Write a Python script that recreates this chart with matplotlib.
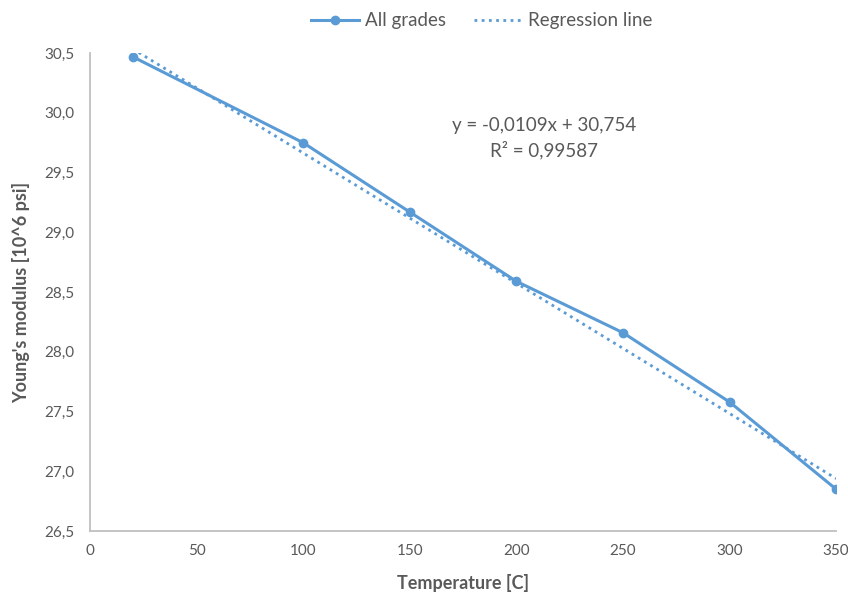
import numpy as np
import matplotlib
matplotlib.use("Agg")
import matplotlib.pyplot as plt
from matplotlib.ticker import FuncFormatter

plt.rcParams['font.family'] = ['Lato', 'DejaVu Sans']

# measured stiffness vs temperature
temperature = [20, 100, 150, 200, 250, 300, 350]
modulus = [30.47, 29.75, 29.17, 28.59, 28.16, 27.58, 26.85]

# trendline coefficients as printed on the chart
slope = -0.0109
intercept = 30.754
r_squared = 0.99587

blue = '#5B9BD5'
grey = '#595959'

fig = plt.figure(figsize=(8.48, 5.93), dpi=100)
ax = fig.add_axes([0.106, 0.1045, 0.880, 0.806])

ax.plot(temperature, modulus, color=blue, lw=2.2, marker='o', ms=6,
        label='All grades', zorder=3)

xfit = np.array([temperature[0], temperature[-1]])
ax.plot(xfit, slope * xfit + intercept, color=blue, lw=2.0,
        linestyle=(0, (1, 1.6)), label='Regression line', zorder=2)

ax.set_xlim(0, 350)
ax.set_ylim(26.5, 30.5)
ax.set_xticks(np.arange(0, 351, 50))
ax.set_yticks(np.arange(26.5, 30.51, 0.5))
ax.yaxis.set_major_formatter(FuncFormatter(lambda v, p: f"{v:.1f}".replace('.', ',')))
ax.tick_params(length=0, labelsize=11, colors=grey)
ax.tick_params(axis='y', pad=11)
ax.tick_params(axis='x', pad=9)

for side in ['top', 'right']:
    ax.spines[side].set_visible(False)
for side in ['left', 'bottom']:
    ax.spines[side].set_color('#BFBFBF')
    ax.spines[side].set_linewidth(1.3)

ax.set_xlabel('Temperature [C]', fontsize=13, fontweight='bold', color=grey, labelpad=12)
ax.set_ylabel("Young's modulus [10^6 psi]", fontsize=13, fontweight='bold', color=grey, labelpad=10)

eq = f"y = {slope:.4f}x + {intercept:.3f}".replace('.', ',')
r2 = f"R² = {r_squared:.5f}".replace('.', ',')
ax.text(213, 29.79, eq + "\n" + r2, ha='center', va='center',
        fontsize=13.5, color=grey, linespacing=1.45)

ax.legend(loc='center', bbox_to_anchor=(0.525, 1.068), ncol=2, frameon=False,
          fontsize=13.5, labelcolor=grey, handlelength=2.6, columnspacing=1.5,
          handletextpad=0.3)

fig.savefig('out.png', dpi=100)
